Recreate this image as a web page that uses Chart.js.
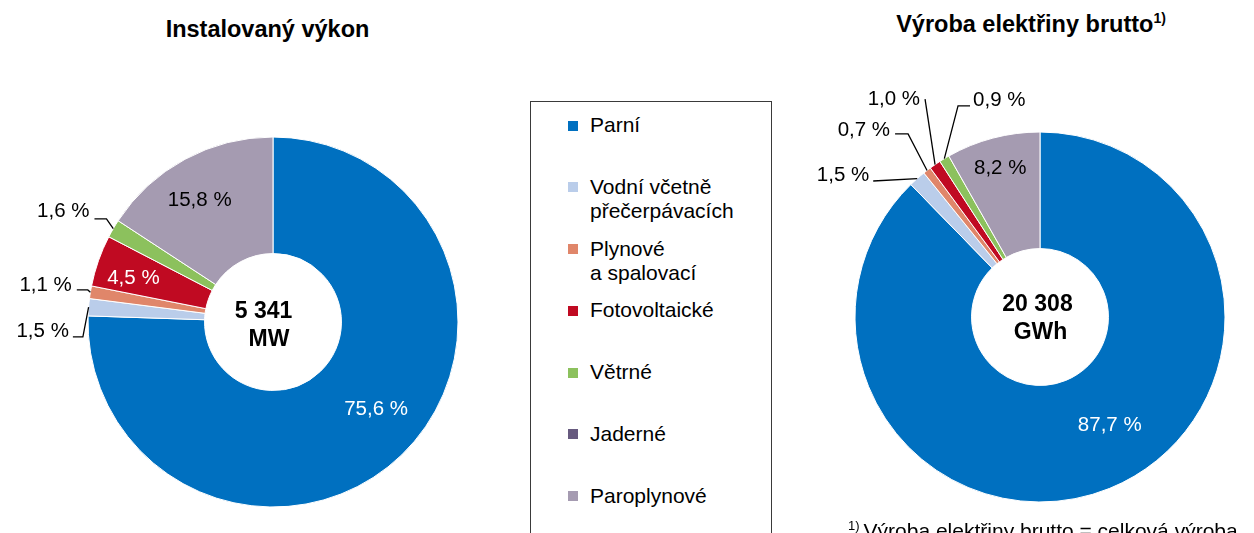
<!DOCTYPE html>
<html lang="cs">
<head>
<meta charset="utf-8">
<script src="https://cdn.jsdelivr.net/npm/chart.js@4.4.1/dist/chart.umd.min.js"></script>
<style>
  html, body { margin: 0; padding: 0; }
  body {
    width: 1254px; height: 533px; overflow: hidden; position: relative;
    background: #fff; color: #000;
    font-family: "Liberation Sans", Arial, sans-serif;
  }
  .title {
    position: absolute; font-weight: bold; font-size: 23.5px; line-height: 23.5px;
    white-space: nowrap; transform: translateX(-50%);
  }
  .title sup { font-size: 14px; line-height: 0; vertical-align: 9px; }
  canvas { position: absolute; top: 0; }
  #capChart { left: 0; }
  #genChart { left: 780px; }
  #legend {
    position: absolute; left: 530px; top: 101px; width: 240px; height: 470px;
    border: 1px solid #3a3a3a;
  }
  .item {
    position: absolute; left: 59px; font-size: 21px; line-height: 24.5px;
    white-space: pre-line;
  }
  .item i { position: absolute; left: -22px; top: 7.5px; width: 10px; height: 10px; }
  #note { position: absolute; left: 848px; top: 520px; font-size: 21px; line-height: 21px; white-space: nowrap; }
  #note sup { font-size: 13px; line-height: 0; vertical-align: 8px; margin-right: 4px; }
</style>
</head>
<body>
<div class="title" style="left:267.5px; top:17.5px">Instalovaný výkon</div>
<div class="title" style="left:1031px; top:12.5px">Výroba elektřiny brutto<sup>1)</sup></div>
<canvas id="capChart" width="520" height="533"></canvas>
<canvas id="genChart" width="474" height="533"></canvas>
<div id="legend"></div>
<div id="note"><sup>1)</sup>Výroba elektřiny brutto = celková výroba</div>

<script>
// categories and shares in %
const categories = [
  'Parní',
  'Vodní včetně\npřečerpávacích',
  'Plynové\na spalovací',
  'Fotovoltaické',
  'Větrné',
  'Jaderné',
  'Paroplynové'
];
const capacityShare = [75.6, 1.5, 1.1, 4.5, 1.6, 0, 15.8];
const productionShare = [87.7, 1.5, 0.7, 1.0, 0.9, 0, 8.2];
const capacityTotal = ['5 341', 'MW'];
const productionTotal = ['20 308', 'GWh'];

const colors = ['#0070C0', '#BACDEA', '#E0866A', '#C00A22', '#8CC15D', '#675A7F', '#A59BB1'];

// label placement: offset from slice anchor (mid-angle), leader points relative to the anchor
const capacityPlaces = [
  { inside: true, dx: 15, dy: -4, color: '#fff' },
  { align: 'right', dx: -19.7, dy: 23.7, leader: [[-15.7, 29.7], [-5.7, 29.7]] },
  { align: 'right', dx: -18.6, dy: -7.3, leader: [[-13.6, -2.3], [-2.6, -2.3]] },
  { inside: true, dx: -20, dy: -2, color: '#fff' },
  { align: 'right', dx: -23.8, dy: -17.8, leader: [[-18.8, -9.8], [-6.8, -9.8]] },
  null,
  { inside: true, dx: -13, dy: -10.5 }
];
const productionPlaces = [
  { inside: true, dx: 22, dy: -9, color: '#fff' },
  { align: 'right', dx: -48, dy: -3.6, leader: [[-44, 2.4]] },
  { align: 'right', dx: -37, dy: -40.5, leader: [[-32, -36.5], [-19, -36.5]] },
  { align: 'right', dx: -15, dy: -65.6, leader: [[-10, -65.6]] },
  { align: 'left', dx: 28.7, dy: -58.7, leader: [[25.7, -52.7], [13.7, -52.7]] },
  null,
  { inside: true, dx: -7.5, dy: -25.7 }
];

const fmt = v => v.toFixed(1).replace('.', ',') + ' %';

const sliceLabels = {
  id: 'sliceLabels',
  afterDatasetsDraw(chart, args, opts) {
    const ctx = chart.ctx;
    const meta = chart.getDatasetMeta(0);
    const values = chart.data.datasets[0].data;
    ctx.save();
    ctx.font = '20.5px "Liberation Sans", Arial, sans-serif';
    ctx.textBaseline = 'middle';
    ctx.lineWidth = 1.3;
    ctx.strokeStyle = '#000';
    meta.data.forEach((arc, i) => {
      const place = opts.places[i];
      if (!place) return;
      const p = arc.getProps(['x', 'y', 'startAngle', 'endAngle', 'innerRadius', 'outerRadius'], true);
      const mid = (p.startAngle + p.endAngle) / 2;
      const r = place.inside ? (p.innerRadius + p.outerRadius) / 2 : p.outerRadius;
      const ax = p.x + Math.cos(mid) * r;
      const ay = p.y + Math.sin(mid) * r;
      if (place.leader) {
        ctx.beginPath();
        place.leader.forEach(([lx, ly], k) => {
          if (k === 0) ctx.moveTo(ax + lx, ay + ly);
          else ctx.lineTo(ax + lx, ay + ly);
        });
        ctx.lineTo(ax, ay);
        ctx.stroke();
      }
      ctx.fillStyle = place.color || '#000';
      ctx.textAlign = place.align || 'center';
      ctx.fillText(fmt(values[i]), ax + place.dx, ay + place.dy);
    });

    // total in the hole
    const c = meta.data[0];
    ctx.font = 'bold 23px "Liberation Sans", Arial, sans-serif';
    ctx.fillStyle = '#000';
    ctx.textAlign = 'center';
    opts.center.forEach((line, k) => {
      ctx.fillText(line, c.x + opts.centerDx[k], c.y + opts.centerDy[k]);
    });
    ctx.restore();
  }
};

const makeChart = (id, values, places, center, centerDx, centerDy, padding) => {
  return new Chart(document.getElementById(id), {
    type: 'doughnut',
    data: {
      labels: categories,
      datasets: [{
        data: values,
        backgroundColor: colors,
        borderColor: '#fff',
        borderWidth: 1,
        hoverOffset: 0
      }]
    },
    options: {
      responsive: false,
      animation: false,
      events: [],
      cutout: '37%',
      layout: { padding },
      plugins: {
        legend: { display: false },
        tooltip: { enabled: false },
        sliceLabels: { places, center, centerDx, centerDy }
      }
    },
    plugins: [sliceLabels]
  });
};

makeChart('capChart', capacityShare, capacityPlaces, capacityTotal, [-9.5, -4], [-10.5, 17.5],
  { left: 87.5, right: 61.5, top: 136.5, bottom: 25.5 });
makeChart('genChart', productionShare, productionPlaces, productionTotal, [-2.5, 0.5], [-12, 16],
  { left: 74.5, right: 28.5, top: 131.5, bottom: 30.5 });

// legend box
const legend = document.getElementById('legend');
categories.forEach((name, i) => {
  const item = document.createElement('div');
  item.className = 'item';
  item.style.top = (11 + i * 61.75) + 'px';
  item.innerHTML = `<i style="background:${colors[i]}"></i>`;
  item.appendChild(document.createTextNode(name));
  legend.appendChild(item);
});
</script>
</body>
</html>
